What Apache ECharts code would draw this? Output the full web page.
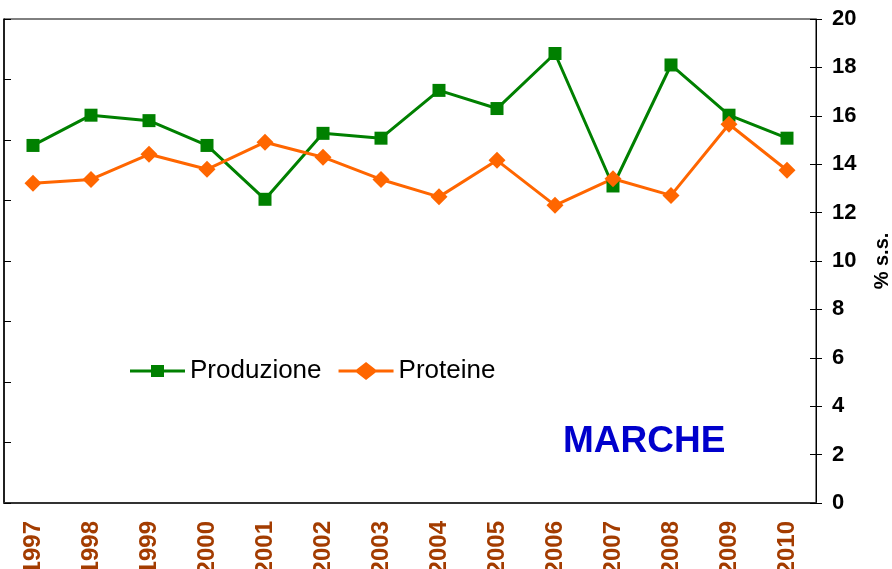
<!DOCTYPE html>
<html>
<head>
    <meta charset="utf-8">
    <title>MARCHE</title>
    <script src="https://cdn.jsdelivr.net/npm/echarts@6/dist/echarts.min.js"></script>
    <style>
        html, body { margin: 0; padding: 0; background: #fff; }
    </style>
</head>
<body>
<div id="main" style="width: 892px;height:569px;"></div>

<script type="text/javascript">
    // dati
    var anni = ['1997','1998','1999','2000','2001','2002','2003','2004','2005','2006','2007','2008','2009','2010'];
    // produzione: scala sinistra (etichette fuori dal riquadro)
    var produzione = [5.91, 6.41, 6.32, 5.91, 5.02, 6.11, 6.03, 6.82, 6.52, 7.43, 5.24, 7.24, 6.41, 6.03];
    // proteine: % s.s., scala destra
    var proteine = [13.21, 13.37, 14.41, 13.79, 14.91, 14.29, 13.37, 12.65, 14.16, 12.30, 13.40, 12.71, 15.65, 13.75];

    var myChart = echarts.init(document.getElementById('main'));
    var font = 'Liberation Sans, Arial, sans-serif';

    // icone legenda: linea + simbolo
    var iconQuadrato = 'path://M0 8.5L55 8.5L55 11.5L0 11.5Z M21 4L34 4L34 16L21 16Z';
    var iconRombo = 'path://M0 8.5L55 8.5L55 11.5L0 11.5Z M16 10L27.5 1L39 10L27.5 19Z';

    var option = {
        animation: false,
        textStyle: { fontFamily: font },
        grid: {
            left: 4, right: 76, top: 19, bottom: 66,
            containLabel: false, outerBoundsMode: 'none',
            show: true, borderColor: '#000', borderWidth: 1
        },
        legend: {
            left: 125, top: 353,
            itemWidth: 55, itemHeight: 20, itemGap: 17,
            textStyle: { fontSize: 26, color: '#000', fontFamily: font },
            data: [
                { name: 'Produzione', icon: iconQuadrato },
                { name: 'Proteine', icon: iconRombo }
            ]
        },
        graphic: [{
            type: 'text', left: 563, top: 423,
            style: { text: 'MARCHE', fill: '#0000CC', font: 'bold 37px ' + font }
        }],
        xAxis: [{
            type: 'category',
            data: anni,
            boundaryGap: true,
            axisLine: { lineStyle: { color: '#333', width: 2 } },
            axisTick: { length: 7, lineStyle: { color: '#333' } },
            axisLabel: {
                rotate: 90, margin: 18, color: '#A33C00',
                fontSize: 24, fontWeight: 'bold', fontFamily: font
            }
        }, {
            type: 'category',
            data: anni,
            position: 'bottom',
            boundaryGap: true,
            axisLine: { show: false },
            axisTick: { inside: true, length: 6, lineStyle: { color: '#333' } },
            axisLabel: { show: false }
        }],
        yAxis: [{
            type: 'value', position: 'left',
            min: 0, max: 8, interval: 1,
            axisLine: { show: true, lineStyle: { color: '#000', width: 1.5 } },
            axisTick: { show: true, inside: true, length: 7, lineStyle: { color: '#000' } },
            axisLabel: { show: false },
            splitLine: { show: false }
        }, {
            type: 'value', position: 'right',
            min: 0, max: 20, interval: 2,
            name: '% s.s.', nameLocation: 'middle', nameGap: 56, nameRotate: 90,
            nameTextStyle: { fontSize: 20, fontWeight: 'bold', color: '#000', fontFamily: font },
            axisLine: { show: true, lineStyle: { color: '#000' } },
            axisTick: { show: true, length: 6, lineStyle: { color: '#000' } },
            axisLabel: { margin: 16, fontSize: 22, fontWeight: 'bold', color: '#000', fontFamily: font },
            splitLine: { show: false }
        }, {
            type: 'value', position: 'right',
            min: 0, max: 20, interval: 2,
            axisLine: { show: false },
            axisTick: { show: true, inside: true, length: 6, lineStyle: { color: '#000' } },
            axisLabel: { show: false },
            splitLine: { show: false }
        }],
        series: [{
            name: 'Produzione',
            type: 'line',
            yAxisIndex: 0,
            data: produzione,
            symbol: 'rect', symbolSize: 13,
            lineStyle: { color: '#008000', width: 3 },
            itemStyle: { color: '#008000' }
        }, {
            name: 'Proteine',
            type: 'line',
            yAxisIndex: 1,
            data: proteine,
            symbol: 'diamond', symbolSize: 17,
            lineStyle: { color: '#FF6600', width: 3 },
            itemStyle: { color: '#FF6600' }
        }]
    };

    myChart.setOption(option);
</script>
</body>
</html>
